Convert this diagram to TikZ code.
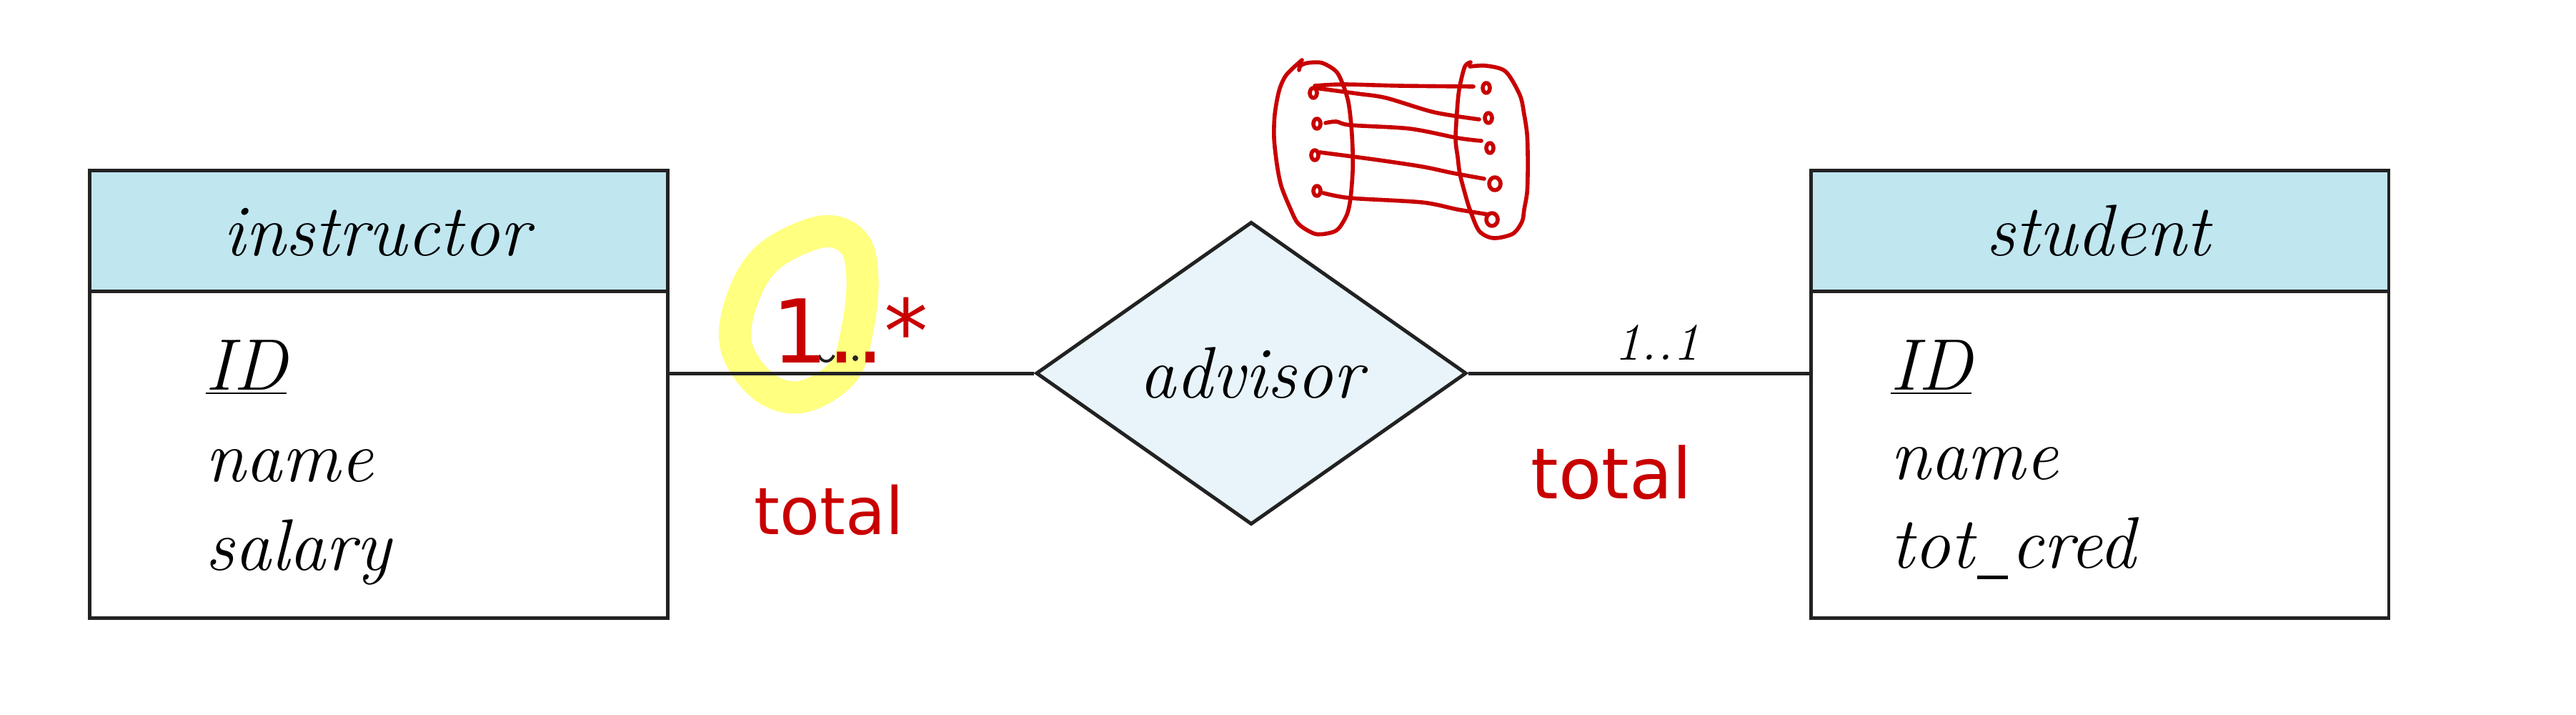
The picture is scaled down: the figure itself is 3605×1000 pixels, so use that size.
\documentclass[tikz,border=0pt]{standalone}
\usepackage{fontspec}
\newfontfamily\handfont{DejaVu Sans}
\usetikzlibrary{shapes.geometric}
\definecolor{hdr}{RGB}{192,230,240}
\definecolor{dia}{RGB}{232,244,250}
\definecolor{ink}{RGB}{34,34,34}
\definecolor{pen}{RGB}{200,0,0}
\definecolor{hl}{RGB}{255,255,128}
\newcommand{\shortus}{\kern0.04em\rule[-0.16em]{0.42em}{0.05em}\kern0.04em}
\tikzset{
  hdrbox/.style={draw=ink, fill=hdr, line width=1.42pt, inner sep=0pt, anchor=north west},
  bodybox/.style={draw=ink, fill=white, line width=1.42pt, inner sep=0pt, anchor=north west},
  relbox/.style={diamond, draw=ink, fill=dia, line width=1.42pt, inner sep=0pt,
    minimum width=6.02cm, minimum height=4.23cm, font=\fontsize{29}{35}\selectfont\itshape},
  conn/.style={draw=ink, line width=1.42pt},
  etitle/.style={inner sep=0pt, anchor=base, font=\fontsize{29}{35}\selectfont\itshape},
  attr/.style={inner sep=0pt, anchor=base west, font=\fontsize{29}{35}\selectfont\itshape},
  card/.style={inner sep=0pt, anchor=base, font=\fontsize{21}{25}\selectfont\itshape},
  redtext/.style={inner sep=0pt, anchor=base west, text=pen},
  sketch/.style={draw=pen, line width=1.6pt, line cap=round, line join=round},
}
\begin{document}
\begin{tikzpicture}[x=0.01cm,y=-0.01cm]
\useasboundingbox (0,0) rectangle (3605,1000);
\fill[white] (0,0) rectangle (3605,1000);

% yellow highlighter
\draw[hl, line width=12.8pt, line cap=round] plot[smooth cycle, tension=0.6] coordinates
  {(1150,324) (1195,340) (1207,390) (1200,460) (1180,520) (1122,555) (1068,540) (1030,483) (1040,415) (1077,358)};

% instructor entity
\node[hdrbox, minimum width=8.09cm, minimum height=1.69cm] (ihead) at (123,236) {};
\node[bodybox, minimum width=8.09cm, minimum height=4.57cm] (ibody) at (123,405) {};
\node[etitle] (ititle) at (527,357) {instructor};
\node[attr] (iid) at (287,545) {\underline{ID}};
\node[attr] (iname) at (287,673) {name};
\node[attr] (isal) at (287,797) {salary};

% student entity
\node[hdrbox, minimum width=8.08cm, minimum height=1.69cm] (shead) at (2532,236) {};
\node[bodybox, minimum width=8.08cm, minimum height=4.57cm] (sbody) at (2532,405) {};
\node[etitle] (stitle) at (2936,357) {student};
\node[attr] (sid) at (2645,545) {\underline{ID}};
\node[attr] (sname) at (2645,670) {name};
\node[attr] (scred) at (2645,794) {tot\shortus cred};

% relationship
\node[relbox] (adv) at (1751,522) {advisor};

% connectors
\draw[conn] (adv.west) -- (adv.west -| ibody.east);
\draw[conn] (adv.east) -- (adv.east -| sbody.west);

% cardinality labels
\node[card] (c2) at (2319,503) {1..1};
\draw[ink, line width=1.1pt] (1146,497) .. controls (1150,508) and (1162,508) .. (1167,497);
\fill[ink] (1197,501) circle (4);
\node[redtext, font=\handfont\fontsize{35}{42}\selectfont] (c1) at (1080,507) {1..*};

% handwritten notes
\node[redtext, font=\handfont\fontsize{26}{31}\selectfont] (t1) at (1055,747) {total};
\node[redtext, font=\handfont\fontsize{28}{34}\selectfont] (t2) at (2142,697) {total};

% sketch of the mapping
\draw[sketch] plot[smooth] coordinates {(1822,84) (1800,105) (1790,127) (1784,160) (1783,193) (1787,230) (1793,260) (1805,290) (1817,313) (1840,327) (1860,326) (1873,320) (1885,300) (1890,277) (1893,240) (1893,210) (1891,175) (1887,143) (1880,120) (1870,100) (1850,88) (1830,88) (1820,92) (1818,98)};
\draw[sketch] plot[smooth] coordinates {(2058,87) (2050,93) (2043,120) (2040,143) (2037,193) (2040,220) (2043,243) (2050,270) (2057,293) (2070,323) (2090,333) (2117,327) (2130,310) (2133,293) (2137,270) (2138,243) (2138,215) (2137,187) (2133,160) (2127,133) (2107,100) (2080,92) (2057,93)};
\foreach \p in {(1838,130),(1843,173),(1840,217),(1843,267),(2080,123),(2083,165),(2085,207)}
  \draw[sketch] \p ellipse [x radius=5, y radius=7];
\draw[sketch] (2092,257) ellipse [x radius=8, y radius=9];
\draw[sketch] (2088,307) ellipse [x radius=8, y radius=9];
\draw[sketch] plot[smooth] coordinates {(1840,120) (1880,118) (1960,120) (2062,121)};
\draw[sketch] plot[smooth] coordinates {(1840,123) (1900,131) (1940,137) (2007,157) (2070,167)};
\draw[sketch] plot[smooth] coordinates {(1855,172) (1870,170) (1890,175) (1973,180) (2040,193) (2073,197)};
\draw[sketch] plot[smooth] coordinates {(1847,213) (1923,223) (1990,233) (2033,242) (2077,250)};
\draw[sketch] plot[smooth] coordinates {(1852,270) (1890,277) (1990,283) (2040,293) (2083,300)};
\end{tikzpicture}
\end{document}
